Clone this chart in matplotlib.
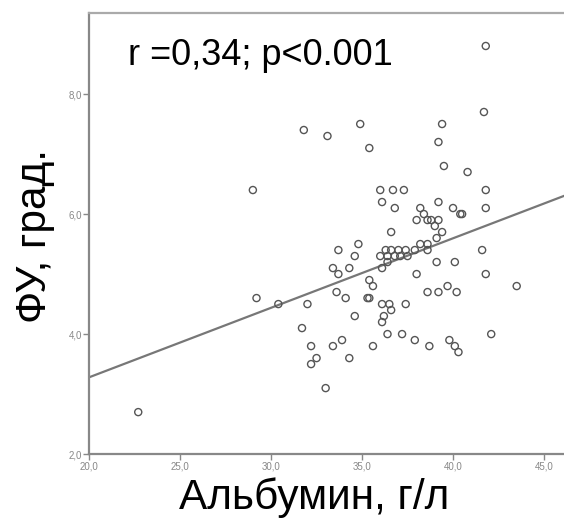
import numpy as np
import matplotlib.pyplot as plt
from matplotlib.ticker import FuncFormatter

# Albumin (g/l) vs phase angle (deg)
albumin = [22.7, 29.0, 29.2, 30.4, 31.7, 32.0, 31.8, 33.1, 34.9, 35.4,
           39.4, 39.2, 39.5, 40.8, 41.8, 41.7, 36.0, 36.7, 37.3, 41.8,
           36.1, 36.8, 39.2, 38.2, 40.0, 40.5, 40.4, 41.8, 38.4, 38.0,
           38.6, 38.8, 39.2, 39.0, 39.4, 36.6, 39.1, 34.8, 38.2, 38.6,
           33.7, 36.3, 36.6, 37.0, 37.4, 37.9, 38.6, 41.6, 34.6, 36.0,
           36.4, 36.8, 37.1, 37.5, 36.4, 39.1, 40.1, 33.4, 34.3, 36.1,
           33.7, 38.0, 41.8, 35.4, 35.6, 33.6, 34.1, 35.3, 35.4, 38.6,
           39.2, 39.7, 40.2, 43.5, 36.1, 36.5, 36.6, 37.4, 34.6, 36.2,
           36.1, 36.4, 37.2, 37.9, 38.7, 39.8, 40.1, 40.3, 42.1, 32.2,
           32.5, 32.2, 33.4, 33.9, 34.3, 35.6, 33.0]
phase_angle = [2.7, 6.4, 4.6, 4.5, 4.1, 4.5, 7.4, 7.3, 7.5, 7.1,
               7.5, 7.2, 6.8, 6.7, 8.8, 7.7, 6.4, 6.4, 6.4, 6.4,
               6.2, 6.1, 6.2, 6.1, 6.1, 6.0, 6.0, 6.1, 6.0, 5.9,
               5.9, 5.9, 5.9, 5.8, 5.7, 5.7, 5.6, 5.5, 5.5, 5.5,
               5.4, 5.4, 5.4, 5.4, 5.4, 5.4, 5.4, 5.4, 5.3, 5.3,
               5.3, 5.3, 5.3, 5.3, 5.2, 5.2, 5.2, 5.1, 5.1, 5.1,
               5.0, 5.0, 5.0, 4.9, 4.8, 4.7, 4.6, 4.6, 4.6, 4.7,
               4.7, 4.8, 4.7, 4.8, 4.5, 4.5, 4.4, 4.5, 4.3, 4.3,
               4.2, 4.0, 4.0, 3.9, 3.8, 3.9, 3.8, 3.7, 4.0, 3.8,
               3.6, 3.5, 3.8, 3.9, 3.6, 3.8, 3.1]

# fit line as drawn (intercept at x=20, slope)
fit_y_at_20 = 3.28
fit_slope = 0.1158

xticks = [20, 25, 30, 35, 40, 45]
yticks = [2, 4, 6, 8]

plt.rcParams['font.family'] = ['Liberation Sans', 'DejaVu Sans']

fig = plt.figure(figsize=(5.64, 5.19), dpi=100)
ax = fig.add_axes([0.158, 0.125, 0.842, 0.85])

ax.scatter(albumin, phase_angle, s=26, facecolors='none',
           edgecolors='#555555', linewidths=1.0, zorder=3)

xl = np.array([20, 46.1])
ax.plot(xl, fit_y_at_20 + fit_slope * (xl - 20), color='#777777', lw=1.6, zorder=2)

ax.set_xlim(20, 46.1)
ax.set_ylim(2, 9.35)
ax.set_xticks(xticks)
ax.set_yticks(yticks)
fmt = FuncFormatter(lambda v, p: f"{v:.1f}".replace('.', ','))
ax.xaxis.set_major_formatter(fmt)
ax.yaxis.set_major_formatter(fmt)
ax.tick_params(direction='out', length=4, width=1, colors='#888888',
               labelsize=7, labelcolor='#888888', pad=1)

for side in ['left', 'bottom']:
    ax.spines[side].set_color('#888888')
    ax.spines[side].set_linewidth(1.6)
ax.spines['top'].set_color('#aaaaaa')
ax.spines['top'].set_linewidth(1.6)
ax.spines['right'].set_visible(False)

fig.text(0.227, 0.893, "r =0,34; p<0.001", fontsize=26, va='center', ha='left',
         color='black')

fig.text(0.557, 0.042, "Альбумин, г/л", fontsize=30.5, ha='center', va='center')
fig.text(0.062, 0.545, "ФУ, град.", fontsize=30.5, ha='center', va='center',
         rotation=90)

fig.savefig("out.png", dpi=100)
